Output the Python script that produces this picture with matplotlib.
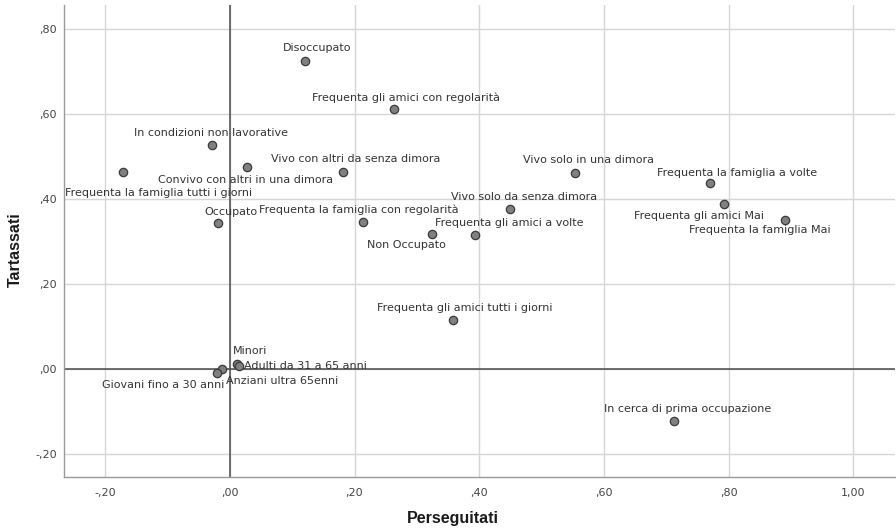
import matplotlib
matplotlib.use("Agg")
import matplotlib.pyplot as plt
from matplotlib.ticker import FuncFormatter, MultipleLocator

labels = [
    "Disoccupato",
    "Frequenta gli amici con regolarità",
    "In condizioni non lavorative",
    "Convivo con altri in una dimora",
    "Frequenta la famiglia tutti i giorni",
    "Occupato",
    "Vivo con altri da senza dimora",
    "Frequenta la famiglia con regolarità",
    "Non Occupato",
    "Frequenta gli amici a volte",
    "Vivo solo da senza dimora",
    "Vivo solo in una dimora",
    "Frequenta la famiglia a volte",
    "Frequenta gli amici Mai",
    "Frequenta la famiglia Mai",
    "Frequenta gli amici tutti i giorni",
    "In cerca di prima occupazione",
    "Minori",
    "Adulti da 31 a 65 anni",
    "Anziani ultra 65enni",
    "Giovani fino a 30 anni",
]
perseguitati = [0.121, 0.263, -0.028, 0.027, -0.172, -0.019, 0.181, 0.213, 0.325,
                0.394, 0.449, 0.554, 0.770, 0.792, 0.890, 0.358, 0.713,
                0.012, 0.015, -0.013, -0.021]
tartassati = [0.725, 0.612, 0.526, 0.474, 0.463, 0.344, 0.464, 0.346, 0.318,
              0.314, 0.376, 0.462, 0.438, 0.388, 0.350, 0.116, -0.123,
              0.012, 0.007, 0.000, -0.010]

# label placement: offset in pixels (dx right, dy down) and alignment
label_layout = [
    (12, -13, "center"), (12, -11, "center"), (-1, -12, "center"), (-1, 13, "center"),
    (36, 21, "center"), (13, -11, "center"), (13, -13, "center"), (-4, -12, "center"),
    (-26, 11, "center"), (34, -12, "center"), (14, -12, "center"), (13, -13, "center"),
    (27, -10, "center"), (-25, 12, "center"), (-25, 10, "center"), (12, -12, "center"),
    (13, -12, "center"), (-4, -13, "left"), (5, 0, "left"), (4, 12, "left"),
    (8, 12, "right"),
]

fig = plt.figure(figsize=(8.96, 5.28), dpi=100)
ax = fig.add_axes([64/896, 51/528, (895-64)/896, (477-5)/528])

ax.set_xlim(-0.266, 1.067)
ax.set_ylim(-0.254, 0.856)
ax.xaxis.set_major_locator(MultipleLocator(0.2))
ax.yaxis.set_major_locator(MultipleLocator(0.2))

def fmt(v, pos):
    s = f"{v:.2f}".replace(".", ",")
    if s.startswith("0,"):
        s = s[1:]
    elif s.startswith("-0,"):
        s = "-" + s[2:]
    if s in ("-,00",):
        s = ",00"
    return s

ax.xaxis.set_major_formatter(FuncFormatter(fmt))
ax.yaxis.set_major_formatter(FuncFormatter(fmt))

ax.grid(True, color="#d6d6d6", linewidth=1.0, zorder=0)
ax.set_axisbelow(True)
for side in ("top", "right"):
    ax.spines[side].set_visible(False)
for side in ("left", "bottom"):
    ax.spines[side].set_color("#9a9a9a")
    ax.spines[side].set_linewidth(1.0)

ax.axhline(0, color="#4a4a4a", linewidth=1.1, zorder=1)
ax.axvline(0, color="#4a4a4a", linewidth=1.1, zorder=1)

ax.tick_params(axis="both", length=0, labelsize=8, labelcolor="#444444")
ax.tick_params(axis="x", pad=8)
ax.tick_params(axis="y", pad=5)

ax.scatter(perseguitati, tartassati, s=36, facecolor="#808080", edgecolor="#3a3a3a",
           linewidth=0.9, zorder=3)

for lab, x, y, (dx, dy, ha) in zip(labels, perseguitati, tartassati, label_layout):
    ax.annotate(lab, (x, y), xytext=(dx * 0.72, -dy * 0.72), textcoords="offset points",
                ha=ha, va="center", fontsize=8, color="#333333",
                family="DejaVu Sans", zorder=4)

fig.text(453/896, 1 - 518/528, "Perseguitati", ha="center", va="center",
         fontsize=11.5, fontweight="bold", family="Liberation Sans", color="#1a1a1a")
fig.text(15/896, 1 - 250/528, "Tartassati", ha="center", va="center", rotation=90,
         fontsize=11.5, fontweight="bold", family="Liberation Sans", color="#1a1a1a")

fig.savefig("out.png", dpi=100, facecolor="white")
